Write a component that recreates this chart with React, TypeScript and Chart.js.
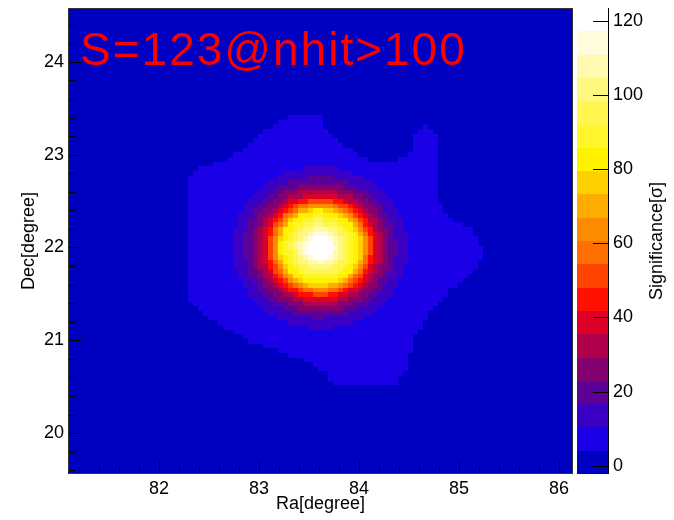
import { useEffect, useRef } from "react";
import { Chart, registerables } from "chart.js";

Chart.register(...registerables);

// Sky window of the map (degrees) and its binning
const raRange = [81.09, 86.14];
const decRange = [19.56, 24.58];
const raBins = 101;
const decBins = 100;

// Fitted source position
const sourceRa = 83.61;
const sourceDec = 22.0;

// Significance contours around the source: outer radius of each ring (deg) and the level inside it
const ringRadius = [0.035, 0.12, 0.16, 0.205, 0.25, 0.3, 0.35, 0.4, 0.42, 0.445, 0.465, 0.49, 0.515, 0.545, 0.58, 0.63, 0.69, 0.76, 0.87];
const ringSignificance = [123, 120, 114, 108, 101, 95, 89, 83, 76, 70, 64, 57, 51, 45, 39, 32, 26, 20, 13.5];

// Outline of the low-level extended region (RA, Dec vertices)
const haloRa = [83.31, 83.61, 83.67, 83.87, 84.11, 84.34, 84.51, 84.57, 84.66, 84.81, 84.77, 84.77, 84.84, 85.11, 85.26, 85.14, 84.94, 84.74, 84.54, 84.47, 84.34, 83.74, 83.67, 83.54, 83.31, 82.97, 82.64, 82.41, 82.29, 82.29, 82.41, 82.64, 82.84, 83.07];
const haloDec = [23.42, 23.42, 23.26, 23.08, 22.93, 22.93, 23.02, 23.22, 23.33, 23.15, 22.93, 22.61, 22.36, 22.22, 21.91, 21.75, 21.57, 21.36, 21.0, 20.67, 20.5, 20.5, 20.64, 20.75, 20.84, 20.96, 21.14, 21.32, 21.46, 22.75, 22.86, 22.93, 23.04, 23.26];
const haloSignificance = 7;
const backgroundSignificance = 1;

// Colour axis: 20 contour levels between zMin and zMax
const zMin = -2.2;
const zMax = 123.4;
const zTickStep = 20;
const paletteColors = [
  "#0000c0", "#1a00e6", "#3a00c4", "#5c0096", "#84006e",
  "#b0004c", "#dc0028", "#ff1000", "#ff4400", "#ff6e00",
  "#ff8c00", "#ffac00", "#ffd000", "#fff200", "#fff52a",
  "#fff650", "#fff880", "#fffab0", "#fffcdc", "#ffffff",
];

const mapLabel = "S=123@nhit>100";
const raTitle = "Ra[degree]";
const decTitle = "Dec[degree]";
const zTitle = "Significance[σ]";

const FONT = '"Liberation Sans", Arial, Helvetica, sans-serif';

const dRa = (raRange[1] - raRange[0]) / raBins;
const dDec = (decRange[1] - decRange[0]) / decBins;

function insideHalo(ra: number, dec: number): boolean {
  let inside = false;
  for (let i = 0, j = haloRa.length - 1; i < haloRa.length; j = i++) {
    const xi = haloRa[i], yi = haloDec[i], xj = haloRa[j], yj = haloDec[j];
    if (yi > dec !== yj > dec && ra < ((xj - xi) * (dec - yi)) / (yj - yi) + xi) inside = !inside;
  }
  return inside;
}

function significanceAt(ra: number, dec: number): number {
  const r = Math.hypot(ra - sourceRa, dec - sourceDec);
  for (let k = 0; k < ringRadius.length; k++) {
    if (r <= ringRadius[k]) return ringSignificance[k];
  }
  return insideHalo(ra, dec) ? haloSignificance : backgroundSignificance;
}

function buildCells() {
  const cells: { x: number; y: number; v: number; i: number; j: number }[] = [];
  for (let j = 0; j < decBins; j++) {
    const dec = decRange[0] + (j + 0.5) * dDec;
    for (let i = 0; i < raBins; i++) {
      const ra = raRange[0] + (i + 0.5) * dRa;
      cells.push({ x: ra, y: dec, v: significanceAt(ra, dec), i, j });
    }
  }
  return cells;
}

function colourFor(v: number): string {
  const n = paletteColors.length;
  let idx = Math.floor(((v - zMin) / (zMax - zMin)) * n);
  if (idx < 0) idx = 0;
  if (idx > n - 1) idx = n - 1;
  return paletteColors[idx];
}

const skyMapPlugin = {
  id: "skyMap",
  beforeDatasetsDraw(chart: any) {
    const { ctx, chartArea: a, scales } = chart;
    const xs = scales.x;
    const ys = scales.y;
    const cells = chart.data.datasets[0].data;
    // pixel edges of every bin, shared by neighbouring cells
    const xEdges: number[] = [];
    for (let i = 0; i <= raBins; i++) xEdges.push(Math.round(xs.getPixelForValue(raRange[0] + i * dRa)));
    const yEdges: number[] = [];
    for (let j = 0; j <= decBins; j++) yEdges.push(Math.round(ys.getPixelForValue(decRange[0] + j * dDec)));
    ctx.save();
    ctx.beginPath();
    ctx.rect(a.left, a.top, a.right - a.left, a.bottom - a.top);
    ctx.clip();
    for (const c of cells) {
      const x0 = xEdges[c.i];
      const x1 = xEdges[c.i + 1];
      const yLow = yEdges[c.j];
      const yHigh = yEdges[c.j + 1];
      ctx.fillStyle = colourFor(c.v);
      ctx.fillRect(x0, yHigh, x1 - x0, yLow - yHigh);
    }
    ctx.restore();
  },
  afterDatasetsDraw(chart: any) {
    const { ctx, chartArea: a, scales } = chart;
    const xs = scales.x;
    const ys = scales.y;
    const zs = scales.z;
    ctx.save();

    // map label
    ctx.fillStyle = "#ff0000";
    ctx.font = `46px ${FONT}`;
    (ctx as any).letterSpacing = "2px";
    ctx.textAlign = "left";
    ctx.textBaseline = "alphabetic";
    ctx.fillText(mapLabel, a.left + 12, a.top + 57);
    (ctx as any).letterSpacing = "0px";

    // inward tick marks
    ctx.strokeStyle = "#000";
    ctx.lineWidth = 1;
    ctx.beginPath();
    for (let k = Math.ceil(raRange[0] * 5); k <= Math.floor(raRange[1] * 5); k++) {
      const px = Math.round(xs.getPixelForValue(k / 5)) + 0.5;
      const len = k % 5 === 0 ? 13 : 7;
      ctx.moveTo(px, a.bottom);
      ctx.lineTo(px, a.bottom - len);
    }
    for (let k = Math.ceil(decRange[0] * 5); k <= Math.floor(decRange[1] * 5); k++) {
      const py = Math.round(ys.getPixelForValue(k / 5)) + 0.5;
      const len = k % 5 === 0 ? 13 : 7;
      ctx.moveTo(a.left, py);
      ctx.lineTo(a.left + len, py);
    }
    ctx.stroke();

    // frame
    ctx.strokeStyle = "#333";
    ctx.strokeRect(a.left + 0.5, a.top + 0.5, a.right - a.left - 1, a.bottom - a.top - 1);

    // colour bar
    const barRight = zs.left;
    const barLeft = barRight - 31;
    const n = paletteColors.length;
    const step = (zMax - zMin) / n;
    for (let k = 0; k < n; k++) {
      const yTop = Math.round(zs.getPixelForValue(zMin + (k + 1) * step));
      const yBot = Math.round(zs.getPixelForValue(zMin + k * step));
      ctx.fillStyle = paletteColors[k];
      ctx.fillRect(barLeft, yTop, barRight - barLeft, yBot - yTop);
    }
    ctx.strokeStyle = "#000";
    ctx.beginPath();
    ctx.moveTo(barRight + 0.5, zs.top);
    ctx.lineTo(barRight + 0.5, zs.bottom);
    for (const t of zs.ticks) {
      const py = Math.round(zs.getPixelForValue(t.value)) + 0.5;
      ctx.moveTo(barRight - 15, py);
      ctx.lineTo(barRight, py);
    }
    ctx.stroke();

    // colour axis title
    ctx.fillStyle = "#000";
    ctx.font = `18px ${FONT}`;
    ctx.textAlign = "center";
    ctx.textBaseline = "middle";
    ctx.translate(657, (zs.top + zs.bottom) / 2);
    ctx.rotate(-Math.PI / 2);
    ctx.fillText(zTitle, 0, 0);
    ctx.restore();
  },
};

const noVerticalPadding = (s: any) => {
  s.paddingTop = 0;
  s.paddingBottom = 0;
};

export default function App() {
  const canvasRef = useRef<HTMLCanvasElement | null>(null);

  useEffect(() => {
    const canvas = canvasRef.current;
    if (!canvas) return;
    const tickFont = { family: FONT, size: 18 };
    const hiddenGrid = { display: false, drawTicks: false, tickLength: 0 };
    const chart = new Chart(canvas, {
      type: "scatter",
      data: {
        datasets: [
          {
            data: buildCells(),
            pointRadius: 0,
            pointHoverRadius: 0,
          },
        ],
      },
      options: {
        responsive: false,
        animation: false,
        events: [],
        layout: { padding: { top: 8, left: 0, right: 0, bottom: 0 } },
        plugins: { legend: { display: false }, tooltip: { enabled: false } },
        scales: {
          x: {
            type: "linear",
            position: "bottom",
            min: raRange[0],
            max: raRange[1],
            grid: hiddenGrid,
            border: { display: false },
            ticks: { stepSize: 1, includeBounds: false, font: tickFont, color: "#000", padding: 4, maxRotation: 0, autoSkip: false },
            title: { display: true, text: raTitle, font: tickFont, color: "#000", padding: { top: 0, bottom: 5 } },
            afterFit: (s: any) => {
              s.height = 46;
              s.paddingLeft = 0;
              s.paddingRight = 0;
            },
          },
          y: {
            type: "linear",
            position: "left",
            min: decRange[0],
            max: decRange[1],
            grid: hiddenGrid,
            border: { display: false },
            ticks: { stepSize: 1, includeBounds: false, font: tickFont, color: "#000", padding: 4, autoSkip: false },
            title: { display: true, text: decTitle, font: tickFont, color: "#000", padding: { top: 18, bottom: 0 } },
            afterFit: (s: any) => {
              s.width = 68;
              noVerticalPadding(s);
            },
          },
          gap: {
            type: "linear",
            position: "right",
            weight: 0,
            display: true,
            grid: hiddenGrid,
            border: { display: false },
            ticks: { display: false },
            afterFit: (s: any) => {
              s.width = 35;
              noVerticalPadding(s);
            },
          },
          z: {
            type: "linear",
            position: "right",
            weight: 1,
            min: zMin,
            max: zMax,
            grid: hiddenGrid,
            border: { display: false },
            ticks: { stepSize: zTickStep, includeBounds: false, font: tickFont, color: "#000", padding: 5, autoSkip: false },
            afterFit: (s: any) => {
              s.width = 66;
              noVerticalPadding(s);
            },
          },
        },
      } as any,
      plugins: [skyMapPlugin],
    });
    return () => chart.destroy();
  }, []);

  return (
    <div style={{ position: "absolute", left: 0, top: 0, width: 674, height: 520, background: "#fff" }}>
      <canvas ref={canvasRef} width={674} height={520} />
    </div>
  );
}
